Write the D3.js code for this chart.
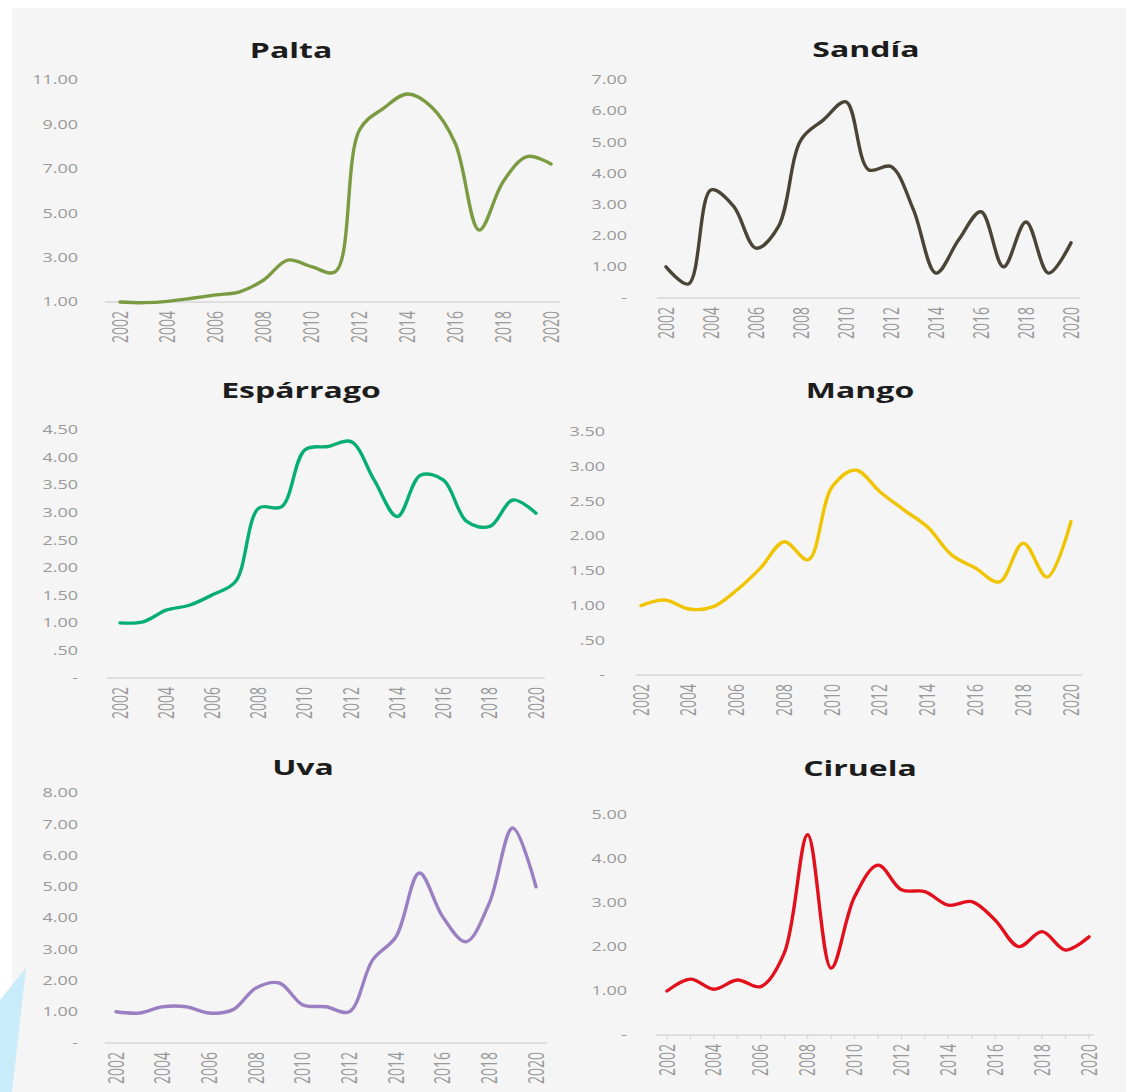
<!DOCTYPE html>
<html><head><meta charset="utf-8">
<script src="https://cdn.jsdelivr.net/npm/d3@7"></script>
<style>body{margin:0;background:#fff}svg{display:block}</style>
</head><body>
<svg id="c" width="1126" height="1092"></svg>
<script>
// ---------- DATA ----------
const years = [2002,2003,2004,2005,2006,2007,2008,2009,2010,2011,2012,2013,2014,2015,2016,2017,2018,2019,2020];
const xTickYears = [2002,2004,2006,2008,2010,2012,2014,2016,2018,2020];

const titles = ["Palta","Sandía","Espárrago","Mango","Uva","Ciruela"];

const paltaValues     = [1.00,0.97,1.03,1.17,1.32,1.46,1.99,2.89,2.59,2.37,8.75,9.72,10.37,9.80,8.15,4.24,6.42,7.55,7.22];
const sandiaValues    = [1.00,0.45,3.47,2.95,1.60,2.30,5.08,5.72,6.30,4.12,4.22,2.83,0.80,1.86,2.77,1.00,2.44,0.80,1.77];
const esparragoValues = [1.00,1.02,1.23,1.32,1.51,1.75,3.08,3.11,4.14,4.20,4.29,3.59,2.93,3.68,3.59,2.84,2.75,3.23,2.99];
const mangoValues     = [1.00,1.08,0.95,0.98,1.22,1.54,1.92,1.66,2.71,2.95,2.64,2.38,2.13,1.73,1.54,1.34,1.90,1.41,2.21];
const uvaValues       = [1.00,0.96,1.16,1.16,0.96,1.06,1.76,1.92,1.22,1.16,1.00,2.66,3.40,5.44,4.04,3.24,4.48,6.88,5.00];
const ciruelaValues   = [1.00,1.27,1.04,1.25,1.10,1.86,4.55,1.52,3.14,3.86,3.30,3.26,2.95,3.03,2.61,2.01,2.35,1.93,2.23];

const paltaTicks     = [1,3,5,7,9,11];
const sandiaTicks    = [0,1,2,3,4,5,6,7];
const esparragoTicks = [0,0.5,1,1.5,2,2.5,3,3.5,4,4.5];
const mangoTicks     = [0,0.5,1,1.5,2,2.5,3,3.5];
const uvaTicks       = [0,1,2,3,4,5,6,7,8];
const ciruelaTicks   = [0,1,2,3,4,5];

const colors = ["#7b9b42","#4a4436","#06ae74","#f0c400","#9a80c2","#e2101c"];

// ---------- LAYOUT ----------
const panels = [
  {title:titles[0], values:paltaValues,     ticks:paltaTicks,     color:colors[0], tx:291, ty:58,  x0:120, x1:551,  yb:302,  yt:80,  lx:78,  ax0:105, ax1:560,  marks:false},
  {title:titles[1], values:sandiaValues,    ticks:sandiaTicks,    color:colors[1], tx:866, ty:57,  x0:666, x1:1071, yb:298,  yt:80,  lx:627, ax0:657, ax1:1080, marks:false},
  {title:titles[2], values:esparragoValues, ticks:esparragoTicks, color:colors[2], tx:301, ty:398, x0:120, x1:536,  yb:678,  yt:430, lx:78,  ax0:107, ax1:545,  marks:false},
  {title:titles[3], values:mangoValues,     ticks:mangoTicks,     color:colors[3], tx:860, ty:398, x0:641, x1:1071, yb:675,  yt:432, lx:605, ax0:636, ax1:1082, marks:false},
  {title:titles[4], values:uvaValues,       ticks:uvaTicks,       color:colors[4], tx:303, ty:775, x0:116, x1:536,  yb:1043, yt:793, lx:78,  ax0:105, ax1:547,  marks:false},
  {title:titles[5], values:ciruelaValues,   ticks:ciruelaTicks,   color:colors[5], tx:860, ty:776, x0:667, x1:1089, yb:1035, yt:815, lx:627, ax0:656, ax1:1094, marks:true}
];

const SX = 1.5; // horizontal stretch of the source picture's text
const fmt = v => v === 0 ? "-" : (v < 1 ? d3.format(".2f")(v).replace(/^0/, "") : d3.format(",.2f")(v));

const svg = d3.select("#c");
svg.append("rect").attr("x",12).attr("y",8).attr("width",1126-12).attr("height",1092-8).attr("fill","#f5f5f5");
svg.append("polygon").attr("points","0,1000 26,968 12,1092 0,1092").attr("fill","#c9ecfb");

panels.forEach(p => {
  const g = svg.append("g");
  const x = d3.scaleLinear().domain([years[0], years[years.length-1]]).range([p.x0, p.x1]);
  const y = d3.scaleLinear().domain([d3.min(p.ticks), d3.max(p.ticks)]).range([p.yb, p.yt]);

  // title
  g.append("text").text(p.title)
    .attr("transform", `translate(${p.tx},${p.ty}) scale(${SX * 0.97},1)`)
    .attr("text-anchor","middle")
    .attr("font-family","'Open Sans', sans-serif").attr("font-weight",700).attr("font-size",22)
    .attr("fill","#1c1c1c");

  // y labels
  g.selectAll("text.yl").data(p.ticks).join("text").attr("class","yl")
    .text(fmt)
    .attr("transform", d => `translate(${p.lx},${y(d)}) scale(${SX},1)`)
    .attr("dy","0.36em").attr("text-anchor","end")
    .attr("font-family","'Open Sans', sans-serif").attr("font-size",12)
    .attr("fill","#999999");

  // x axis line
  g.append("line").attr("x1",p.ax0).attr("x2",p.ax1).attr("y1",p.yb).attr("y2",p.yb)
    .attr("stroke","#d6d6d6").attr("stroke-width",1.5);
  if (p.marks) {
    g.selectAll("line.tm").data(years).join("line").attr("class","tm")
      .attr("x1",d=>x(d)).attr("x2",d=>x(d)).attr("y1",p.yb).attr("y2",p.yb+4)
      .attr("stroke","#d0d0d0").attr("stroke-width",1);
  }

  // x labels
  g.selectAll("text.xl").data(xTickYears).join("text").attr("class","xl")
    .text(d=>d)
    .attr("transform", d => `translate(${x(d)},${p.yb + 9}) scale(${SX},1) rotate(-90)`)
    .attr("dy","0.36em").attr("text-anchor","end")
    .attr("font-family","'Open Sans', sans-serif").attr("font-size",14)
    .attr("fill","#999999");

  // line
  const line = d3.line().x((d,i)=>x(years[i])).y(d=>y(d)).curve(d3.curveCatmullRom.alpha(0.5));
  g.append("path").datum(p.values).attr("d",line)
    .attr("fill","none").attr("stroke",p.color).attr("stroke-width",3.4)
    .attr("stroke-linejoin","round").attr("stroke-linecap","round");
});
</script>
</body></html>
